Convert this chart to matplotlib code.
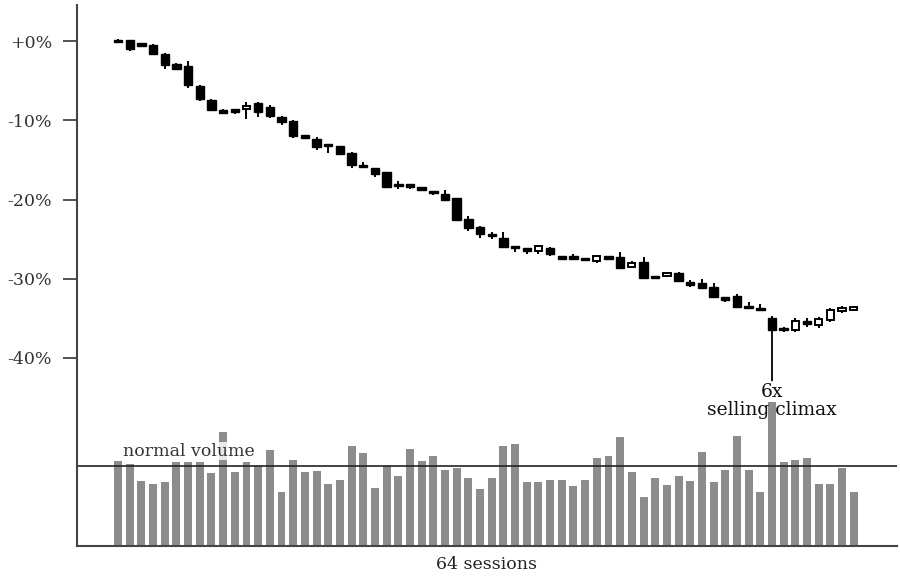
import numpy as np
import matplotlib.pyplot as plt

plt.rcParams['font.family'] = ['DejaVu Serif']

# price change vs first session, in %
opens = [0.10, 0.13, -0.25, -0.51, -1.55, -2.82, -3.16, -5.64, -7.36, -8.67,
         -8.59, -8.59, -7.79, -8.33, -9.56, -10.06, -11.91, -12.29, -13.04, -13.22,
         -14.05, -15.57, -16.07, -16.54, -17.97, -18.09, -18.47, -18.94, -19.23, -19.82,
         -22.39, -23.45, -24.43, -24.91, -25.85, -26.17, -26.49, -26.05, -27.18, -27.11,
         -27.40, -27.78, -27.18, -27.31, -28.50, -27.87, -29.71, -29.63, -29.26, -30.39,
         -30.59, -31.10, -32.41, -32.16, -33.42, -33.67, -34.94, -36.30, -36.49, -35.35,
         -35.86, -35.23, -34.09, -33.78]
highs = [0.29, 0.19, -0.16, -0.38, -1.43, -2.71, -2.53, -5.56, -7.26, -8.61,
         -8.52, -7.66, -7.70, -8.08, -9.47, -9.89, -11.83, -12.08, -13.00, -13.19,
         -14.02, -15.24, -16.04, -16.48, -17.68, -18.06, -18.43, -18.88, -18.81, -19.76,
         -22.01, -23.36, -24.15, -24.15, -25.82, -26.14, -25.82, -26.01, -27.15, -26.93,
         -27.36, -27.08, -27.15, -26.68, -27.74, -27.31, -29.67, -29.20, -29.20, -30.18,
         -30.09, -30.59, -32.39, -31.94, -32.99, -33.24, -34.72, -36.07, -35.01, -34.94,
         -34.81, -33.75, -33.46, -33.42]
lows = [-0.13, -1.22, -0.67, -1.64, -3.45, -3.60, -5.85, -7.54, -8.75, -9.22,
        -9.13, -9.76, -9.56, -9.72, -10.61, -12.16, -12.37, -13.76, -14.05, -14.33,
        -16.00, -15.91, -17.13, -18.43, -18.72, -18.65, -18.88, -19.48, -20.16, -22.66,
        -23.95, -24.91, -25.00, -26.01, -26.60, -26.89, -26.93, -27.15, -27.44, -27.69,
        -27.69, -27.99, -27.48, -28.74, -28.54, -29.89, -29.87, -29.76, -30.30, -31.02,
        -31.26, -32.49, -32.92, -33.66, -33.79, -34.00, -36.49, -36.78, -36.78, -36.15,
        -36.20, -35.52, -34.38, -34.09]
closes = [0.03, -0.92, -0.59, -1.55, -3.03, -3.54, -5.56, -7.23, -8.62, -9.05,
          -8.93, -8.21, -8.96, -9.47, -10.19, -11.99, -12.16, -13.35, -13.22, -14.27,
          -15.57, -15.87, -16.79, -18.40, -18.31, -18.43, -18.81, -19.07, -19.99, -22.60,
          -23.57, -24.37, -24.58, -25.97, -26.05, -26.43, -25.88, -26.93, -27.40, -27.56,
          -27.65, -27.11, -27.44, -28.70, -27.99, -29.84, -29.84, -29.29, -30.27, -30.81,
          -31.22, -32.29, -32.58, -33.62, -33.75, -33.96, -36.49, -36.43, -35.32, -35.77,
          -35.14, -33.96, -33.75, -33.71]

# volume, relative to normal volume (= 1)
volume = [1.06, 1.02, 0.81, 0.78, 0.80, 1.05, 1.05, 1.05, 0.91, 1.43,
          0.93, 1.05, 1.00, 1.20, 0.68, 1.08, 0.93, 0.94, 0.78, 0.83,
          1.25, 1.16, 0.72, 1.00, 0.87, 1.21, 1.06, 1.13, 0.95, 0.97,
          0.85, 0.71, 0.85, 1.25, 1.28, 0.80, 0.80, 0.83, 0.82, 0.75,
          0.83, 1.10, 1.12, 1.36, 0.92, 0.61, 0.85, 0.76, 0.88, 0.81,
          1.17, 0.80, 0.95, 1.38, 0.95, 0.68, 1.80, 1.05, 1.07, 1.10,
          0.78, 0.78, 0.98, 0.67]
normal_volume = 1.0
climax_day = 56
yticks = [0, -10, -20, -30, -40]

o = np.array(opens)
c = np.array(closes)
x = np.arange(len(o))
up = c > o

fig = plt.figure(figsize=(9, 5.84), dpi=100)
ax = fig.add_axes([0.0856, 0.065, 0.911, 0.926])
axv = ax.twinx()
ax.set_zorder(axv.get_zorder() + 1)
ax.patch.set_visible(False)

# volume bars at the bottom
axv.bar(x, volume, width=0.68, color='#8c8c8c', zorder=1)
axv.axhline(normal_volume, color='#222222', lw=1.2, zorder=2)
axv.text(0.4, normal_volume + 0.08, 'normal volume', fontsize=12.5, color='#333333',
         va='bottom', ha='left', zorder=3,
         bbox=dict(facecolor='white', edgecolor='none', alpha=0.8, pad=0.5))
axv.set_ylim(0, 6.76)
axv.axis('off')

# candles
ax.vlines(x, lows, highs, color='black', lw=1.4, zorder=2)
body = np.maximum(np.abs(c - o), 0.3)
bottom = np.minimum(o, c) - (body - np.abs(c - o)) / 2
ax.bar(x[~up], body[~up], bottom=bottom[~up], width=0.72, color='black',
       edgecolor='black', lw=1, zorder=3)
ax.bar(x[up], body[up], bottom=bottom[up], width=0.62, color='white',
       edgecolor='black', lw=1.4, zorder=3)

ax.annotate('6x\nselling climax', xy=(climax_day, closes[climax_day]),
            xytext=(climax_day, -43.2), ha='center', va='top', fontsize=13.5,
            linespacing=0.95, color='#111111',
            arrowprops=dict(arrowstyle='-', color='black', lw=1.3,
                            shrinkA=0, shrinkB=0, relpos=(0.5, 1.0)))

ax.set_xlim(-3.51, 66.7)
ax.set_ylim(-63.76, 4.55)
ax.set_yticks(yticks)
ax.set_yticklabels(['%+d%%' % t if t == 0 else '%d%%' % t for t in yticks])
ax.set_xticks([])
ax.set_xlabel('64 sessions', fontsize=12.5, color='#222222', labelpad=7)
ax.tick_params(axis='y', length=10, width=1.3, color='#444444', labelsize=12.5,
               labelcolor='#333333', pad=8)
for s in ['top', 'right']:
    ax.spines[s].set_visible(False)
for s in ['left', 'bottom']:
    ax.spines[s].set_color('#444444')
    ax.spines[s].set_linewidth(1.5)

plt.savefig('out.png')
